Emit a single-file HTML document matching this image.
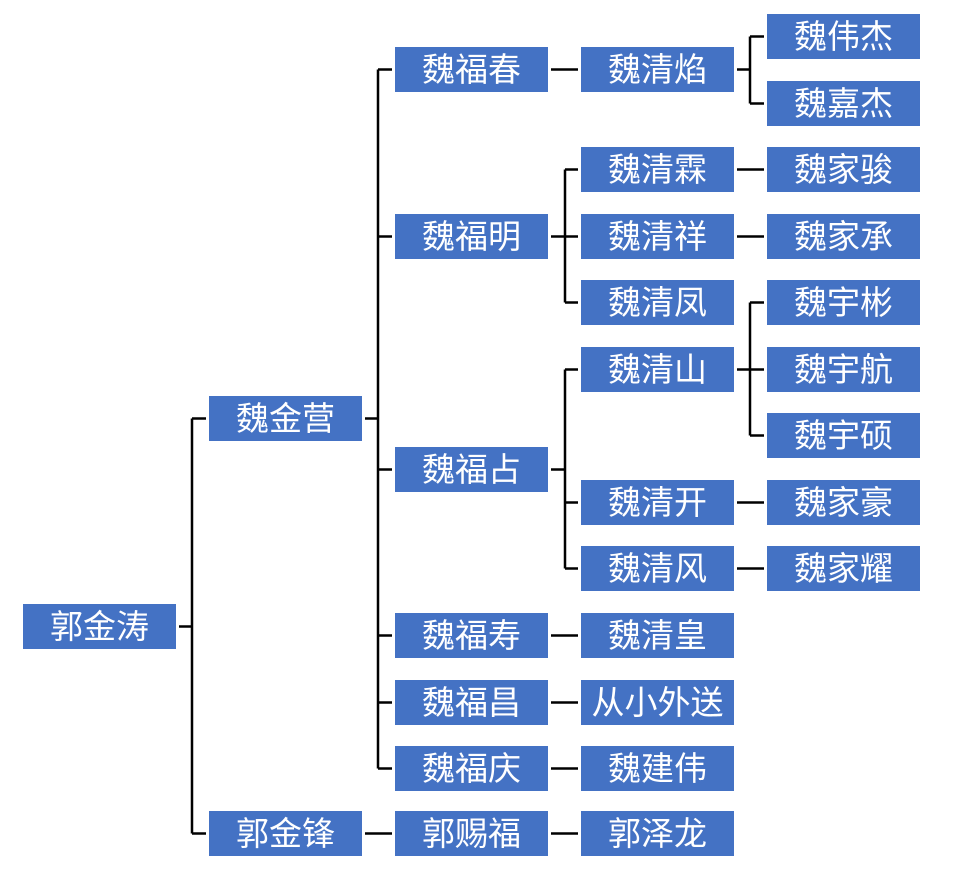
<!DOCTYPE html>
<html><head><meta charset="utf-8"><style>
html,body{margin:0;padding:0;background:#fff;width:953px;height:877px;overflow:hidden}
svg text{font-family:"Liberation Sans","Noto Sans CJK SC",sans-serif;font-size:33px;fill:#fff;text-anchor:middle;dominant-baseline:central}
</style></head><body>
<svg width="953" height="877" viewBox="0 0 953 877" xmlns="http://www.w3.org/2000/svg">
<g fill="#4472C4">
<rect x="23" y="604" width="153" height="45"/>
<rect x="209" y="396" width="153" height="45"/>
<rect x="209" y="811" width="153" height="45"/>
<rect x="395" y="47" width="153" height="45"/>
<rect x="395" y="214" width="153" height="45"/>
<rect x="395" y="447" width="153" height="45"/>
<rect x="395" y="613" width="153" height="45"/>
<rect x="395" y="680" width="153" height="45"/>
<rect x="395" y="746" width="153" height="45"/>
<rect x="395" y="811" width="153" height="45"/>
<rect x="581" y="47" width="153" height="45"/>
<rect x="581" y="147" width="153" height="45"/>
<rect x="581" y="214" width="153" height="45"/>
<rect x="581" y="280" width="153" height="45"/>
<rect x="581" y="347" width="153" height="45"/>
<rect x="581" y="480" width="153" height="45"/>
<rect x="581" y="546" width="153" height="45"/>
<rect x="581" y="613" width="153" height="45"/>
<rect x="581" y="680" width="153" height="45"/>
<rect x="581" y="746" width="153" height="45"/>
<rect x="581" y="811" width="153" height="45"/>
<rect x="767" y="14" width="153" height="45"/>
<rect x="767" y="81" width="153" height="45"/>
<rect x="767" y="147" width="153" height="45"/>
<rect x="767" y="214" width="153" height="45"/>
<rect x="767" y="280" width="153" height="45"/>
<rect x="767" y="347" width="153" height="45"/>
<rect x="767" y="413" width="153" height="45"/>
<rect x="767" y="480" width="153" height="45"/>
<rect x="767" y="546" width="153" height="45"/>
</g>
<g stroke="#000" stroke-width="2.5" fill="none">
<path d="M179 626.5H192M192 418.5V833.5M192 418.5H206M192 833.5H206"/>
<path d="M365 418.5H378M378 69.5V768.5M378 69.5H392M378 236.5H392M378 469.5H392M378 635.5H392M378 702.5H392M378 768.5H392"/>
<path d="M365 833.5H392M551 833.5H578"/>
<path d="M551 69.5H578M737 69.5H750M750 36.5V103.5M750 36.5H764M750 103.5H764"/>
<path d="M551 236.5H565M565 169.5V302.5M565 169.5H578M565 236.5H578M565 302.5H578"/>
<path d="M737 169.5H764M737 236.5H764"/>
<path d="M737 369.5H750M750 302.5V435.5M750 302.5H764M750 369.5H764M750 435.5H764"/>
<path d="M551 469.5H565M565 369.5V568.5M565 369.5H578M565 502.5H578M565 568.5H578"/>
<path d="M737 502.5H764M737 568.5H764"/>
<path d="M551 635.5H578M551 702.5H578M551 768.5H578"/>
</g>
<g>
<text x="99.5" y="626.5">郭金涛</text>
<text x="285.5" y="418.5">魏金营</text>
<text x="285.5" y="833.5">郭金锋</text>
<text x="471.5" y="69.5">魏福春</text>
<text x="471.5" y="236.5">魏福明</text>
<text x="471.5" y="469.5">魏福占</text>
<text x="471.5" y="635.5">魏福寿</text>
<text x="471.5" y="702.5">魏福昌</text>
<text x="471.5" y="768.5">魏福庆</text>
<text x="471.5" y="833.5">郭赐福</text>
<text x="657.5" y="69.5">魏清焰</text>
<text x="657.5" y="169.5">魏清霖</text>
<text x="657.5" y="236.5">魏清祥</text>
<text x="657.5" y="302.5">魏清凤</text>
<text x="657.5" y="369.5">魏清山</text>
<text x="657.5" y="502.5">魏清开</text>
<text x="657.5" y="568.5">魏清风</text>
<text x="657.5" y="635.5">魏清皇</text>
<text x="657.5" y="702.5">从小外送</text>
<text x="657.5" y="768.5">魏建伟</text>
<text x="657.5" y="833.5">郭泽龙</text>
<text x="843.5" y="36.5">魏伟杰</text>
<text x="843.5" y="103.5">魏嘉杰</text>
<text x="843.5" y="169.5">魏家骏</text>
<text x="843.5" y="236.5">魏家承</text>
<text x="843.5" y="302.5">魏宇彬</text>
<text x="843.5" y="369.5">魏宇航</text>
<text x="843.5" y="435.5">魏宇硕</text>
<text x="843.5" y="502.5">魏家豪</text>
<text x="843.5" y="568.5">魏家耀</text>
</g>
</svg>
</body></html>
